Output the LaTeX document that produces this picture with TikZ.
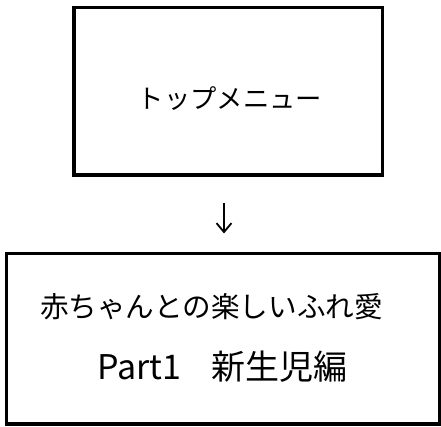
\documentclass[tikz,border=0pt]{standalone}
\usepackage{fontspec}
\newfontfamily\cjk{Noto Sans CJK JP}
\usetikzlibrary{arrows.meta}
\tikzset{
  box/.style={draw=black, line width=3.5pt, fill=none, inner sep=0pt},
  conn/.style={line width=1.8pt, -{Straight Barb[length=9pt,width=15pt,line width=1.8pt]}},
  lbl/.style={inner sep=0pt, text=black}
}
\begin{document}
\begin{tikzpicture}[x=1pt,y=1pt]
\useasboundingbox (0,0) rectangle (441,427);
\node[box, minimum width=308.5pt, minimum height=167.5pt] (top) at (228,335.5) {};
\node[lbl] (toptext) at (230,328) {\cjk\fontsize{26.3pt}{30pt}\selectfont トップメニュー};
\node[box, minimum width=432.75pt, minimum height=170.5pt] (bottom) at (223.1,88) {};
\node[lbl] (line1) at (211.5,120) {\cjk\fontsize{28.6pt}{32pt}\selectfont 赤ちゃんとの楽しいふれ愛};
\node[lbl, anchor=west] (line2) at (97,60) {\cjk\fontsize{34pt}{38pt}\selectfont Part1\hspace{30pt}新生児編};
\draw[conn, shorten <=26pt, shorten >=18.5pt] ([xshift=-4pt]top.south) -- ([xshift=-4pt]top.south |- bottom.north);
\end{tikzpicture}
\end{document}
